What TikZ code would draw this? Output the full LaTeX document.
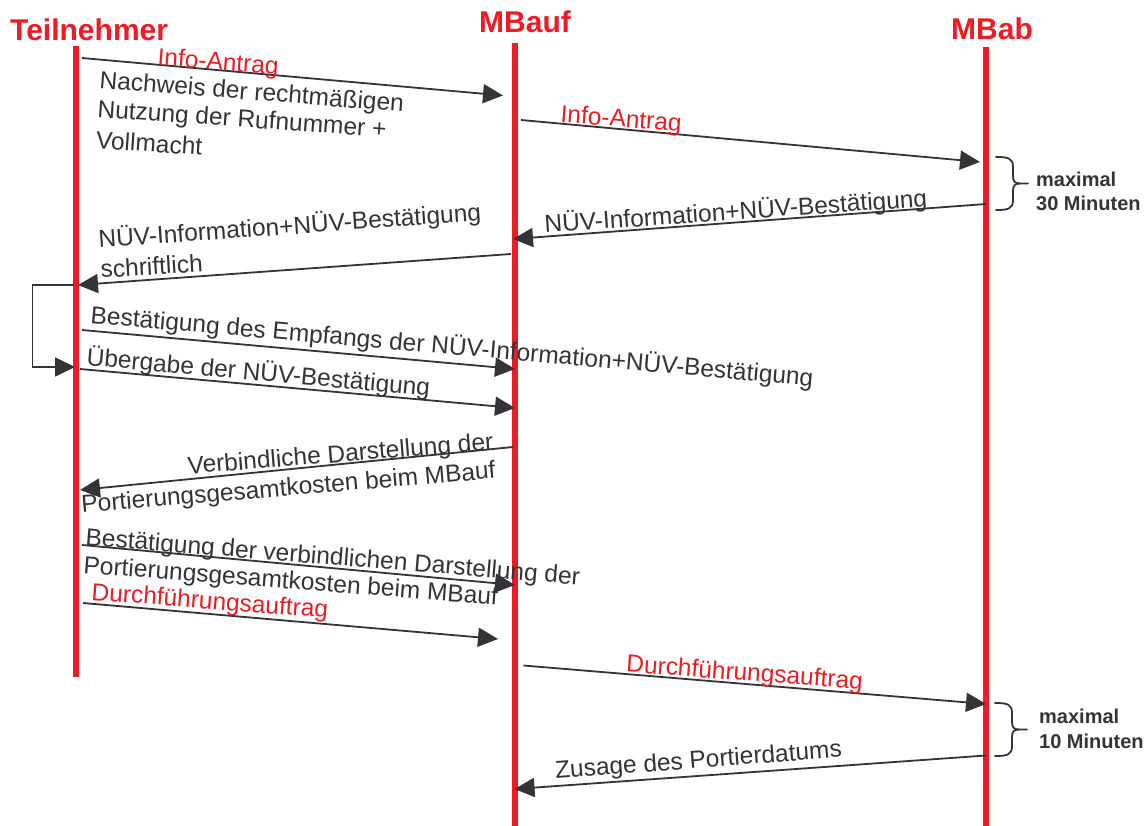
\documentclass[tikz,border=0pt]{standalone}
\usepackage{fontspec}
\setmainfont{Liberation Sans}
\usetikzlibrary{arrows.meta}
\definecolor{llred}{HTML}{ED1C24}
\definecolor{dgray}{HTML}{333338}
\tikzset{
  timebrace/.pic={
    \draw[brc] (0,0) .. controls (12,0) and (17,1) .. (17,10) -- (17,19)
      .. controls (17,24.5) and (19,26.5) .. (24,26.5) -- (32,26.5);
    \draw[brc] (24,26.5) .. controls (19,26.5) and (17,28.5) .. (17,34) -- (17,43)
      .. controls (17,52) and (12,53) .. (0,53);
  }
}
\begin{document}
\begin{tikzpicture}[x=1pt,y=-1pt,
  lifeline/.style={draw=llred, line width=5.5pt},
  title/.style={text=llred, font=\fontsize{30}{35}\selectfont\bfseries, inner sep=0pt, anchor=base west},
  msg/.style={draw=dgray, line width=1.8pt, -{Triangle[length=20pt,width=19pt]}},
  lbl/.style={text=dgray, font=\fontsize{24.5}{28}\selectfont, inner sep=0pt, anchor=base west},
  rlbl/.style={lbl, text=llred},
  brc/.style={draw=dgray, line width=1.8pt, line cap=round, line join=round},
  note/.style={text=dgray, font=\fontsize{20}{24}\selectfont\bfseries, inner sep=0pt, anchor=base west}
]
\fill[white] (0,0) rectangle (1146,826);
\useasboundingbox (0,0) rectangle (1146,826);

% titles
\node[title] (tT) at (10,41) {Teilnehmer};
\node[title] (tA) at (479,33) {MBauf};
\node[title] (tB) at (951,40) {MBab};

% lifelines
\coordinate (Ttop) at (76,46);   \coordinate (Tbot) at (76,677);
\coordinate (Atop) at (515,43);  \coordinate (Abot) at (515,826);
\coordinate (Btop) at (986,47);  \coordinate (Bbot) at (986,826);
\draw[lifeline] (Ttop) -- (Tbot);
\draw[lifeline] (Atop) -- (Abot);
\draw[lifeline] (Btop) -- (Bbot);

% message end points
\coordinate (m1s) at (82,58);      \coordinate (m1e) at (503,95.5);
\coordinate (m2s) at (521,120);    \coordinate (m2e) at (980,162);
\coordinate (m3s) at (986,204);    \coordinate (m3e) at (513,239);
\coordinate (m4s) at (511,254);    \coordinate (m4e) at (78,285);
\coordinate (l1) at (74,285);      \coordinate (l2) at (32.5,285);
\coordinate (l3) at (32.5,367);    \coordinate (l4) at (75,367);
\coordinate (m6s) at (82,330);     \coordinate (m6e) at (515,369);
\coordinate (m7s) at (80,369);     \coordinate (m7e) at (515,408);
\coordinate (m8s) at (513,447);    \coordinate (m8e) at (80,490);
\coordinate (m9s) at (82,545);     \coordinate (m9e) at (515,585);
\coordinate (m10s) at (83,603);    \coordinate (m10e) at (498,639);
\coordinate (m11s) at (523.5,665.5); \coordinate (m11e) at (986,704);
\coordinate (m12s) at (986,755.5); \coordinate (m12e) at (514.5,789);

% messages
\draw[msg] (m1s) -- (m1e);
\draw[msg] (m2s) -- (m2e);
\draw[msg] (m3s) -- (m3e);
\draw[msg] (m4s) -- (m4e);
\draw[msg] (l1) -- (l2) -- (l3) -- (l4);
\draw[msg] (m6s) -- (m6e);
\draw[msg] (m7s) -- (m7e);
\draw[msg] (m8s) -- (m8e);
\draw[msg] (m9s) -- (m9e);
\draw[msg] (m10s) -- (m10e);
\draw[msg] (m11s) -- (m11e);
\draw[msg] (m12s) -- (m12e);

% labels
\node[rlbl, rotate=-4.5] (L1) at (157,65) {Info-Antrag};
\node[lbl, rotate=-4.5] (L1a) at (99,88) {Nachweis der rechtmäßigen};
\node[lbl, rotate=-4] (L1b) at (97,117) {Nutzung der Rufnummer +};
\node[lbl, rotate=-4] (L1c) at (95.5,148) {Vollmacht};
\node[rlbl, rotate=-4.5] (L2) at (560,122) {Info-Antrag};
\node[lbl, rotate=4] (L3) at (545,233) {NÜV-Information+NÜV-Bestätigung};
\node[lbl, rotate=4.1] (L4a) at (99,248) {NÜV-Information+NÜV-Bestätigung};
\node[lbl, rotate=3.5] (L4b) at (101,278) {schriftlich};
\node[lbl, rotate=-5] (L6) at (90,323) {Bestätigung des Empfangs der NÜV-Information+NÜV-Bestätigung};
\node[lbl, rotate=-5.2] (L7) at (86,365) {Übergabe der NÜV-Bestätigung};
\node[lbl, anchor=base east, rotate=4.5] (L8a) at (494,450) {Verbindliche Darstellung der};
\node[lbl, rotate=4.8] (L8b) at (82,513) {Portierungsgesamtkosten beim MBauf};
\node[lbl, rotate=-4.6] (L9a) at (85,545) {Bestätigung der verbindlichen Darstellung der};
\node[lbl, rotate=-4.4] (L9b) at (83,573) {Portierungsgesamtkosten beim MBauf};
\node[rlbl, rotate=-4.3] (L10) at (91,600) {Durchführungsauftrag};
\node[rlbl, rotate=-4.3] (L11) at (625.7,671.7) {Durchführungsauftrag};
\node[lbl, rotate=4.4] (L12) at (555.6,779) {Zusage des Portierdatums};

% time braces
\pic at (996,157) {timebrace};
\pic at (995,703) {timebrace};
\node[note] (n1a) at (1036,187) {maximal};
\node[note] (n1b) at (1036,211) {30 Minuten};
\node[note] (n2a) at (1039,723) {maximal};
\node[note] (n2b) at (1039,748) {10 Minuten};
\end{tikzpicture}
\end{document}
